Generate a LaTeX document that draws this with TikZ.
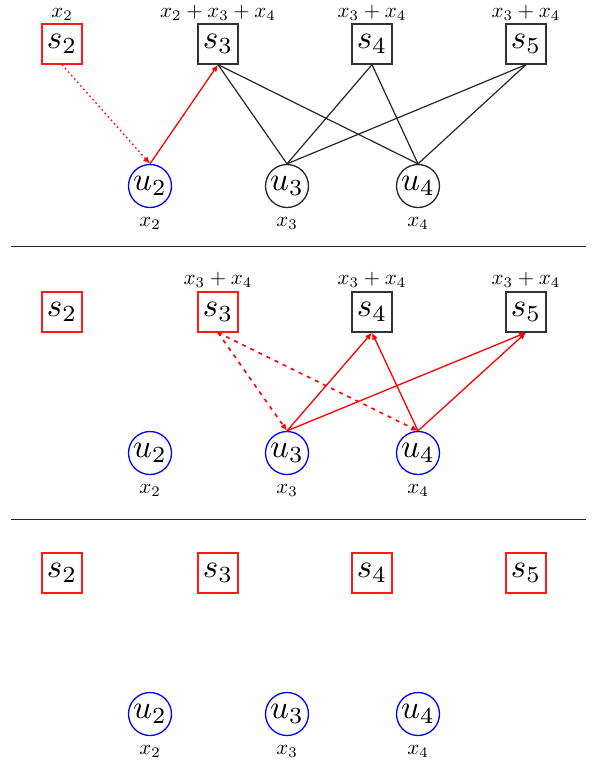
\documentclass[tikz,border=0pt]{standalone}
\usetikzlibrary{arrows.meta}
\newcommand{\ntxt}[1]{\scalebox{3.3}{$#1$}}
\newcommand{\ltxt}[1]{\scalebox{2.1}{$#1$}}
\begin{document}
\begin{tikzpicture}[x=1pt,y=-1pt,
  sq/.style={draw=black!80, line width=1.3pt, minimum size=40pt, inner sep=0pt},
  sqr/.style={sq, draw=red!90!white},
  cir/.style={circle, draw=black!85, line width=1.3pt, minimum size=43pt, inner sep=0pt},
  cirb/.style={cir, draw=blue},
  lab/.style={inner sep=0pt, anchor=base},
  plainedge/.style={draw=black!85, line width=1.2pt},
  arr/.style={draw=red, line width=1.3pt, -{Latex[length=7pt,width=6pt]}},
  darr/.style={arr, line width=1.6pt, dash pattern=on 4pt off 5pt},
  dotarr/.style={arr, dash pattern=on 1.6pt off 3pt},
  sepline/.style={draw=black!85, line width=1pt}
]
\useasboundingbox (0,0) rectangle (597,764);

% ---------- Panel 1 ----------
\node[sqr] (a2) at (62,44) {\ntxt{s_2}};
\node[sq]  (a3) at (218,44) {\ntxt{s_3}};
\node[sq]  (a4) at (372,44) {\ntxt{s_4}};
\node[sq]  (a5) at (526,44) {\ntxt{s_5}};
\node[cirb] (au2) at (150,186) {\ntxt{u_2}};
\node[cir]  (au3) at (287,186) {\ntxt{u_3}};
\node[cir]  (au4) at (418,186) {\ntxt{u_4}};
\node[lab] (la2) at (62,17) {\ltxt{x_2}};
\node[lab] (la3) at (218,17) {\ltxt{x_2+x_3+x_4}};
\node[lab] (la4) at (372,17) {\ltxt{x_3+x_4}};
\node[lab] (la5) at (526,17) {\ltxt{x_3+x_4}};
\node[lab] (lau2) at (150,226) {\ltxt{x_2}};
\node[lab] (lau3) at (287,226) {\ltxt{x_3}};
\node[lab] (lau4) at (418,226) {\ltxt{x_4}};

\draw[plainedge] (a3.south) -- (au3.north);
\draw[plainedge] (a3.south) -- (au4.north);
\draw[plainedge] (a4.south) -- (au3.north);
\draw[plainedge] (a4.south) -- (au4.north);
\draw[plainedge] (a5.south) -- (au3.north);
\draw[plainedge] (a5.south) -- (au4.north);
\draw[dotarr] (a2.south) -- (au2.north);
\draw[arr] (au2.north) -- (a3.south);

\coordinate (sep1l) at (11,246);
\coordinate (sep1r) at (586,246);
\draw[sepline] (sep1l) -- (sep1r);

% ---------- Panel 2 ----------
\node[sqr] (b2) at (62,312) {\ntxt{s_2}};
\node[sqr] (b3) at (218,312) {\ntxt{s_3}};
\node[sq]  (b4) at (372,312) {\ntxt{s_4}};
\node[sq]  (b5) at (526,312) {\ntxt{s_5}};
\node[cirb] (bu2) at (150,453) {\ntxt{u_2}};
\node[cirb] (bu3) at (287,453) {\ntxt{u_3}};
\node[cirb] (bu4) at (418,453) {\ntxt{u_4}};
\node[lab] (lb3) at (218,284) {\ltxt{x_3+x_4}};
\node[lab] (lb4) at (372,284) {\ltxt{x_3+x_4}};
\node[lab] (lb5) at (526,284) {\ltxt{x_3+x_4}};
\node[lab] (lbu2) at (150,493) {\ltxt{x_2}};
\node[lab] (lbu3) at (287,493) {\ltxt{x_3}};
\node[lab] (lbu4) at (418,493) {\ltxt{x_4}};

\draw[darr] (b3.south) -- (bu3.north);
\draw[darr] (b3.south) -- (bu4.north);
\draw[arr] (bu3.north) -- (b4.south);
\draw[arr] (bu3.north) -- (b5.south);
\draw[arr] (bu4.north) -- (b4.south);
\draw[arr] (bu4.north) -- (b5.south);

\coordinate (sep2l) at (11,519);
\coordinate (sep2r) at (586,519);
\draw[sepline] (sep2l) -- (sep2r);

% ---------- Panel 3 ----------
\node[sqr] (c2) at (62,573) {\ntxt{s_2}};
\node[sqr] (c3) at (218,573) {\ntxt{s_3}};
\node[sqr] (c4) at (372,573) {\ntxt{s_4}};
\node[sqr] (c5) at (526,573) {\ntxt{s_5}};
\node[cirb] (cu2) at (150,714) {\ntxt{u_2}};
\node[cirb] (cu3) at (287,714) {\ntxt{u_3}};
\node[cirb] (cu4) at (418,714) {\ntxt{u_4}};
\node[lab] (lcu2) at (150,754) {\ltxt{x_2}};
\node[lab] (lcu3) at (287,754) {\ltxt{x_3}};
\node[lab] (lcu4) at (418,754) {\ltxt{x_4}};
\end{tikzpicture}
\end{document}
